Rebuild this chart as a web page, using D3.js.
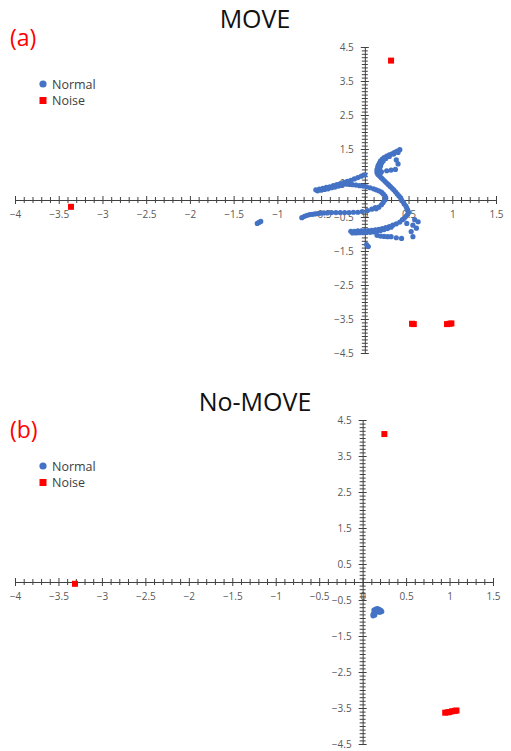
<!DOCTYPE html>
<html>
<head>
<meta charset="utf-8">
<script src="https://cdn.jsdelivr.net/npm/d3@7"></script>
<style>
  body { margin: 0; background: #fff; }
  svg { display: block; font-family: "Open Sans", "Noto Sans", sans-serif; }
</style>
</head>
<body>
<svg id="chart" width="511" height="751"></svg>
<script>
// tick labels
const xTickLabels = [-4, -3.5, -3, -2.5, -2, -1.5, -1, -0.5, 0, 0.5, 1, 1.5];
const yTickLabels = [4.5, 3.5, 2.5, 1.5, 0.5, -0.5, -1.5, -2.5, -3.5, -4.5];
const seriesNames = ['Normal', 'Noise'];

// (a) MOVE - normal points
const moveUpperArm = [
  [-0.56, 0.30], [-0.52, 0.32], [-0.48, 0.34], [-0.44, 0.37], [-0.40, 0.39],
  [-0.36, 0.42], [-0.32, 0.45], [-0.28, 0.48], [-0.24, 0.51], [-0.20, 0.55],
  [-0.16, 0.58], [-0.12, 0.62], [-0.08, 0.66], [-0.04, 0.70], [0.00, 0.74],
  [-0.54, 0.27], [-0.50, 0.29], [-0.46, 0.31], [-0.42, 0.33], [-0.38, 0.36],
  [-0.34, 0.38], [-0.30, 0.41], [-0.26, 0.43]
];
const moveMiddle = [
  [-0.22, 0.47], [-0.18, 0.46], [-0.14, 0.45], [-0.10, 0.44], [-0.06, 0.42],
  [-0.02, 0.41], [0.02, 0.39], [0.06, 0.36], [0.10, 0.33], [0.13, 0.30],
  [0.16, 0.27], [0.19, 0.23], [0.21, 0.18], [0.23, 0.12], [0.24, 0.06],
  [0.23, 0.00], [0.21, -0.07], [0.19, -0.14], [0.16, -0.21], [0.13, -0.26]
];
const moveCurve = [
  [0.40, 1.48], [0.37, 1.44], [0.34, 1.40], [0.31, 1.36], [0.28, 1.33],
  [0.25, 1.29], [0.22, 1.25], [0.20, 1.20], [0.18, 1.15], [0.17, 1.10],
  [0.16, 1.05], [0.15, 1.00], [0.15, 0.95], [0.14, 0.90], [0.14, 0.85],
  [0.14, 0.80], [0.15, 0.75], [0.17, 0.70],
  [0.38, 1.40], [0.33, 1.35], [0.28, 1.28], [0.24, 1.22], [0.21, 1.15],
  [0.19, 1.08], [0.18, 1.00], [0.17, 0.93], [0.17, 0.86], [0.18, 0.80],
  [0.19, 0.65], [0.21, 0.60], [0.23, 0.55], [0.25, 0.50], [0.27, 0.45],
  [0.29, 0.40], [0.31, 0.35], [0.33, 0.30], [0.35, 0.24], [0.37, 0.18],
  [0.39, 0.12], [0.41, 0.06], [0.42, 0.00], [0.44, -0.06], [0.45, -0.12],
  [0.47, -0.18], [0.48, -0.24], [0.49, -0.30], [0.50, -0.36], [0.49, -0.42],
  [0.47, -0.48], [0.45, -0.54], [0.43, -0.58]
];
const moveSpur = [
  [0.36, 1.18], [0.38, 1.06], [0.19, 0.83], [0.25, 0.86], [0.30, 0.88], [0.35, 0.90]
];
const moveLowerArm = [
  [-0.72, -0.52], [-0.69, -0.48], [-0.66, -0.45], [-0.63, -0.43], [-0.60, -0.42],
  [-0.57, -0.41], [-0.54, -0.40], [-0.51, -0.39], [-0.47, -0.38], [-0.43, -0.38],
  [-0.38, -0.37], [-0.33, -0.37], [-0.28, -0.37], [-0.23, -0.37], [-0.18, -0.37],
  [-0.13, -0.36], [-0.08, -0.36], [-0.03, -0.34], [0.03, -0.31], [0.08, -0.27],
  [0.12, -0.22]
];
const moveBand = [
  [-0.16, -0.92], [-0.12, -0.92], [-0.08, -0.91], [-0.04, -0.91], [0.00, -0.90],
  [0.04, -0.90], [0.08, -0.89], [0.12, -0.88], [0.16, -0.86], [0.20, -0.84],
  [0.24, -0.81], [0.28, -0.78], [0.32, -0.74], [0.36, -0.70], [0.40, -0.65],
  [-0.14, -0.97], [-0.10, -0.97], [-0.06, -0.96], [-0.02, -0.96], [0.02, -0.95],
  [0.06, -0.95], [0.10, -0.94], [0.14, -0.92], [0.18, -0.90], [0.22, -0.87],
  [0.26, -0.84], [0.30, -0.80],
  [0.14, -1.04], [0.18, -1.06], [0.22, -1.07], [0.26, -1.08], [0.30, -1.08],
  [0.36, -1.11], [0.42, -1.13],
  [0.48, -0.69], [0.55, -0.74], [0.57, -0.58], [0.61, -0.64], [0.59, -0.83],
  [0.53, -0.93], [0.55, -1.08],
  [0.02, -1.31], [0.04, -1.37]
];
const moveOutlier = [[-1.23, -0.69], [-1.21, -0.66], [-1.19, -0.63]];
const moveNoise = [
  [0.30, 4.10], [-3.36, -0.20], [0.54, -3.64], [0.56, -3.65],
  [0.94, -3.65], [0.97, -3.64], [0.99, -3.63]
];

// (b) No-MOVE
const noMoveNormal = [
  [0.13, -0.78], [0.15, -0.75], [0.17, -0.74], [0.19, -0.76], [0.21, -0.79],
  [0.22, -0.82], [0.20, -0.84], [0.18, -0.83], [0.16, -0.80], [0.14, -0.82],
  [0.13, -0.86], [0.12, -0.90], [0.12, -0.94], [0.14, -0.92], [0.17, -0.78],
  [0.19, -0.81]
];
const noMoveNoise = [
  [0.25, 4.11], [-3.31, -0.05], [0.95, -3.63], [0.98, -3.62], [1.00, -3.61],
  [1.03, -3.59], [1.06, -3.58], [1.08, -3.57]
];

const blue = '#4472C4';
const red = '#FF0000';
const axisColor = '#404040';
const labelColor = '#595959';

const svg = d3.select('#chart');

function panel(opts) {
  const g = svg.append('g');
  const x = d3.scaleLinear().domain([-4, 1.5]).range(opts.xRange);
  const y = d3.scaleLinear().domain([-4.5, 4.5]).range(opts.yRange);

  // title and letter
  g.append('text')
    .attr('x', 255).attr('y', opts.titleY)
    .attr('text-anchor', 'middle')
    .attr('font-size', 25).attr('fill', '#111')
    .text(opts.title);
  g.append('text')
    .attr('x', 10).attr('y', opts.letterY)
    .attr('font-size', 23).attr('fill', red)
    .text(opts.letter);

  // x axis, minor ticks every 0.1 crossing the line
  const xMinor = d3.range(-40, 16).map(i => i / 10);
  const xMajor = new Set(xTickLabels.map(v => v.toFixed(1)));
  const xAxis = d3.axisBottom(x)
    .tickValues(xMinor)
    .tickSizeOuter(0)
    .tickSizeInner(4)
    .tickPadding(7)
    .tickFormat(d => xMajor.has(d.toFixed(1)) ? d3.format('')(+d.toFixed(1)) : '');
  const gx = g.append('g')
    .attr('transform', `translate(0,${y(0)})`)
    .call(xAxis);
  gx.selectAll('.tick line')
    .attr('y1', d => xMajor.has(d.toFixed(1)) ? -4 : -3)
    .attr('y2', d => xMajor.has(d.toFixed(1)) ? 4 : 3);

  // y axis
  const yMinor = d3.range(-45, 46).map(i => i / 10);
  const yMajor = new Set(yTickLabels.map(v => v.toFixed(1)));
  const yAxis = d3.axisLeft(y)
    .tickValues(yMinor)
    .tickSizeOuter(0)
    .tickSizeInner(4)
    .tickPadding(7)
    .tickFormat(d => yMajor.has(d.toFixed(1)) ? d3.format('')(+d.toFixed(1)) : '');
  const gy = g.append('g')
    .attr('transform', `translate(${x(0)},0)`)
    .call(yAxis);
  gy.selectAll('.tick line')
    .attr('x1', d => yMajor.has(d.toFixed(1)) ? 4 : 3)
    .attr('x2', d => yMajor.has(d.toFixed(1)) ? -4 : -3);

  [gx, gy].forEach(a => {
    a.select('.domain').attr('stroke', axisColor);
    a.selectAll('.tick line').attr('stroke', axisColor);
    a.selectAll('text')
      .attr('font-family', '"Open Sans", "Noto Sans", sans-serif')
      .attr('font-size', 10).attr('fill', labelColor);
  });

  // points
  g.append('g').selectAll('circle')
    .data(opts.normal).join('circle')
    .attr('cx', d => x(d[0])).attr('cy', d => y(d[1]))
    .attr('r', 2.6).attr('fill', blue);
  g.append('g').selectAll('rect')
    .data(opts.noise).join('rect')
    .attr('x', d => x(d[0]) - 3).attr('y', d => y(d[1]) - 3)
    .attr('width', 6).attr('height', 6).attr('fill', red);

  // legend
  const lg = g.append('g').attr('transform', `translate(43,${opts.legendY})`);
  lg.append('circle').attr('cx', 0).attr('cy', 0).attr('r', 3.6).attr('fill', blue);
  lg.append('rect').attr('x', -3.5).attr('y', 13).attr('width', 7).attr('height', 7).attr('fill', red);
  lg.selectAll('text.lab')
    .data(seriesNames).join('text')
    .attr('class', 'lab')
    .attr('x', 9).attr('y', (d, i) => i * 16.5 + 4.5)
    .attr('font-size', 12.5).attr('fill', '#404040')
    .text(d => d);
}

panel({
  title: 'MOVE', letter: '(a)', titleY: 28, letterY: 46, legendY: 84,
  xRange: [15, 496], yRange: [353, 47],
  normal: [].concat(moveUpperArm, moveMiddle, moveCurve, moveSpur, moveLowerArm, moveBand, moveOutlier),
  noise: moveNoise
});
panel({
  title: 'No-MOVE', letter: '(b)', titleY: 411, letterY: 438, legendY: 466,
  xRange: [15, 493], yRange: [744, 420],
  normal: noMoveNormal,
  noise: noMoveNoise
});
</script>
</body>
</html>
